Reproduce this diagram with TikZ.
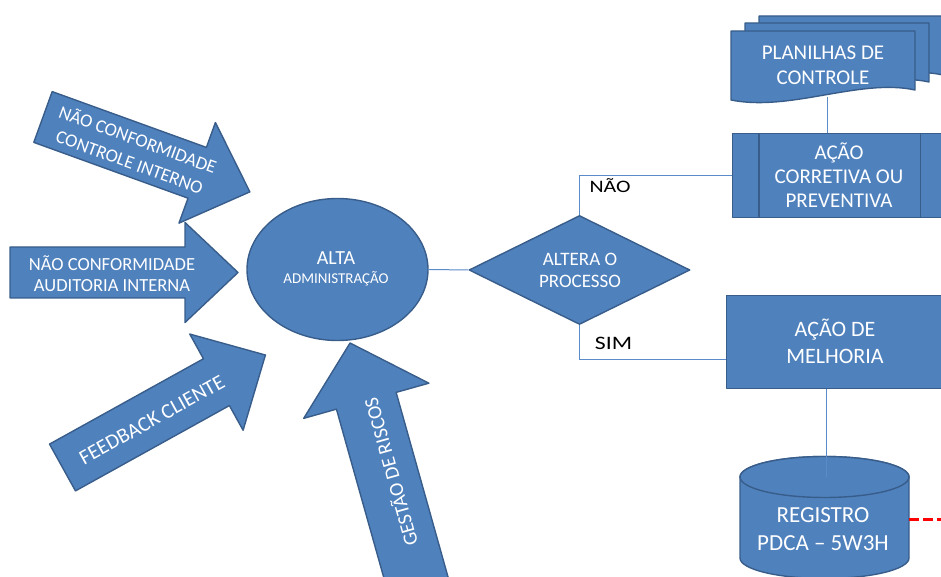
\documentclass[tikz,border=0pt]{standalone}
\usepackage{fontspec}
\setmainfont{Carlito}
\newfontfamily\lblfont{Carlito}[FakeStretch=1.25]
\usetikzlibrary{shapes.geometric}
\definecolor{obl}{HTML}{4F81BD}
\definecolor{obd}{HTML}{385D8A}
\definecolor{cn}{HTML}{5B8BC9}
\tikzset{
  shapebox/.style={fill=obl, draw=obd, line width=1.4pt, line join=round},
  conn/.style={draw=cn, line width=1pt},
  txt/.style={text=white, inner sep=0pt, align=center},
}
% tail mid point, angle, length, shaft half width, head half width, head length
\newcommand\fatarrow[6]{%
  \draw[shapebox, shift={#1}, rotate=#2]
    (0,-#4) -- (#3-#6,-#4) -- (#3-#6,-#5) -- (#3,0) -- (#3-#6,#5)
    -- (#3-#6,#4) -- (0,#4) -- cycle;}
% top left corner of a document shape
\newcommand\docshape[2]{%
  \draw[shapebox] (#1,#2) -- (#1+184,#2) -- (#1+184,#2-59)
    .. controls (#1+129,#2-47) and (#1+59,#2-81) .. (#1,#2-69) -- cycle;}
\begin{document}
\begin{tikzpicture}[x=1pt,y=1pt]
\useasboundingbox (0,0) rectangle (941,577);
\clip (0,0) rectangle (941,577);

% input arrows
\fatarrow{(43,460)}{-19.9}{220}{27}{53.5}{56}
\fatarrow{(10,304.5)}{0}{228}{25.5}{50}{53}
\fatarrow{(62.5,109.5)}{29}{232}{26.75}{55}{56}
\fatarrow{(420.4,-16.3)}{105.7}{260}{31}{65}{60}

\node[txt, font=\fontsize{18.5}{24}\selectfont, rotate=-20] (ta) at (134,427) {NÃO CONFORMIDADE\\CONTROLE INTERNO};
\node[txt, font=\fontsize{18.5}{21}\selectfont] (tb) at (112,303.5) {NÃO CONFORMIDADE\\AUDITORIA INTERNA};
\node[txt, font=\fontsize{21}{25}\selectfont, rotate=29] (tc) at (152,157) {FEEDBACK CLIENTE};
\node[txt, font=\fontsize{20}{24}\selectfont, rotate=105.7] (td) at (390,105) {GESTÃO DE RISCOS};

% central ellipse
\node[shapebox, ellipse, inner sep=0pt, minimum width=181pt, minimum height=142pt] (alta) at (337.5,307.5) {};
\node[txt, anchor=base, font=\fontsize{20}{22}\selectfont] (altat) at (336,312.7) {ALTA};
\node[txt, anchor=base, font=\fontsize{15}{17}\selectfont] (altab) at (336,293.7) {ADMINISTRAÇÃO};

% decision
\node[shapebox, diamond, inner sep=0pt, minimum width=221pt, minimum height=109pt] (dia) at (579.5,307) {};
\node[txt, font=\fontsize{19}{21.5}\selectfont] (diat) at (580,306.5) {ALTERA O\\PROCESSO};

% documents
\docshape{759}{561}
\docshape{745}{554}
\docshape{731}{546}
\node[txt, font=\fontsize{21}{25}\selectfont] (plan) at (823,511.5) {PLANILHAS DE\\CONTROLE};
\coordinate (plb) at (827,480);

% corrective action (predefined process)
\node[shapebox, rectangle, inner sep=0pt, minimum width=214pt, minimum height=84pt, anchor=north west] (acao) at (732,444) {};
\draw[obd, line width=1.4pt] ([xshift=27pt]acao.north west) -- ([xshift=27pt]acao.south west);
\draw[obd, line width=1.4pt] ([xshift=-27pt]acao.north east) -- ([xshift=-27pt]acao.south east);
\node[txt, font=\fontsize{21}{24}\selectfont] (acaot) at (839,402) {AÇÃO\\CORRETIVA OU\\PREVENTIVA};

% improvement action
\node[shapebox, rectangle, inner sep=0pt, minimum width=218pt, minimum height=93pt, anchor=north west] (melh) at (726,282) {};
\node[txt, font=\fontsize{22}{27}\selectfont] (melht) at (835,235.5) {AÇÃO DE\\MELHORIA};

% cylinder
\draw[shapebox] (740,100) -- (740,19) arc[start angle=180, end angle=360, x radius=84.5, y radius=20.5]
  -- (909,100) arc[start angle=0, end angle=180, x radius=84.5, y radius=20.5] -- cycle;
\draw[shapebox] (824.5,100) ellipse [x radius=84.5, y radius=20.5];
\coordinate (cyltop) at (826,100);
\coordinate (cylright) at (909,57);
\coordinate (redend) at (946,57);
\node[txt, font=\fontsize{23}{28}\selectfont] (reg) at (823,48) {REGISTRO\\PDCA – 5W3H};

% connectors
\draw[conn] (alta.east) -- (dia.west);
\draw[conn] (dia.north) |- (acao.west);
\coordinate (sj) at ([yshift=-17pt]melh.west);
\draw[conn] (dia.south) |- (sj);
\draw[conn] (plb) -- (plb |- acao.north);
\draw[conn] (cyltop |- melh.south) -- (cyltop);
\draw[red, line width=3pt, dash pattern=on 10pt off 4pt] (cylright) -- (redend);

% labels
\node[inner sep=0pt, font=\lblfont\fontsize{17.5}{20}\selectfont] (nao) at (610,391) {NÃO};
\node[inner sep=0pt, font=\lblfont\fontsize{19}{22}\selectfont] (sim) at (613.5,234) {SIM};
\end{tikzpicture}
\end{document}
